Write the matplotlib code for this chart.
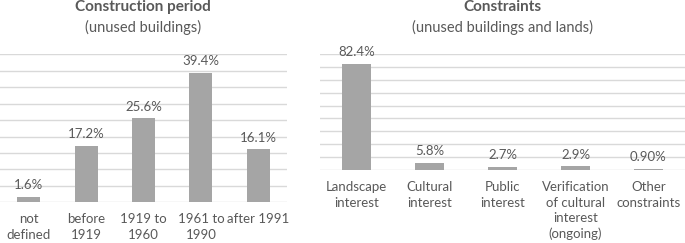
import matplotlib
matplotlib.use('Agg')
import matplotlib.pyplot as plt

# data
period_labels = ['not\ndefined', 'before\n1919', '1919 to\n1960', '1961 to\n1990', 'after 1991']
period_values = [1.6, 17.2, 25.6, 39.4, 16.1]
period_text = ['1.6%', '17.2%', '25.6%', '39.4%', '16.1%']

constr_labels = ['Landscape\ninterest', 'Cultural\ninterest', 'Public\ninterest',
                 'Verification\nof cultural\ninterest\n(ongoing)', 'Other\nconstraints']
constr_values = [82.4, 5.8, 2.7, 2.9, 0.9]
constr_text = ['82.4%', '5.8%', '2.7%', '2.9%', '0.90%']

plt.rcParams['font.family'] = ['Lato', 'DejaVu Sans']
TXT = '#595959'
BAR = '#a5a5a5'
GRID = '#d9d9d9'
W, H = 685, 243

fig = plt.figure(figsize=(6.85, 2.43), dpi=100)


def panel(rect, labels, values, texts, ymax, step, title, sub, tx):
    ax = fig.add_axes(rect)
    x = range(len(values))
    ax.bar(x, values, width=0.4, color=BAR, zorder=2)
    ax.set_xlim(-0.5, len(values) - 0.5)
    ax.set_ylim(0, ymax)
    ax.set_yticks([i * step for i in range(int(ymax / step) + 1)])
    ax.yaxis.grid(True, color=GRID, linewidth=1, zorder=0)
    ax.tick_params(axis='y', left=False, labelleft=False)
    ax.tick_params(axis='x', length=0, pad=8, labelsize=9.5, colors=TXT)
    ax.set_xticks(list(x))
    ax.set_xticklabels(labels, color=TXT, fontsize=9.5, va='top', linespacing=1.35)
    for s in ax.spines.values():
        s.set_visible(False)
    for xi, v, t in zip(x, values, texts):
        ax.annotate(t, (xi, v), xytext=(0, 4), textcoords='offset points',
                    ha='center', va='bottom', color=TXT, fontsize=9.5)
    fig.text(tx / W, 1 - 7 / H, title, ha='center', va='center',
             fontsize=11, fontweight='bold', color=TXT)
    fig.text(tx / W, 1 - 27 / H, sub, ha='center', va='center',
             fontsize=10.5, color=TXT)
    return ax


panel([0 / W, 1 - 202.3 / H, 287 / W, (202.3 - 54.3) / H],
      period_labels, period_values, period_text, 45, 5,
      'Construction period', '(unused buildings)', 143)
panel([320 / W, 1 - 170 / H, 365 / W, (170 - 54) / H],
      constr_labels, constr_values, constr_text, 90, 10,
      'Constraints', '(unused buildings and lands)', 502)

plt.savefig('out.png', dpi=100)
plt.close()
